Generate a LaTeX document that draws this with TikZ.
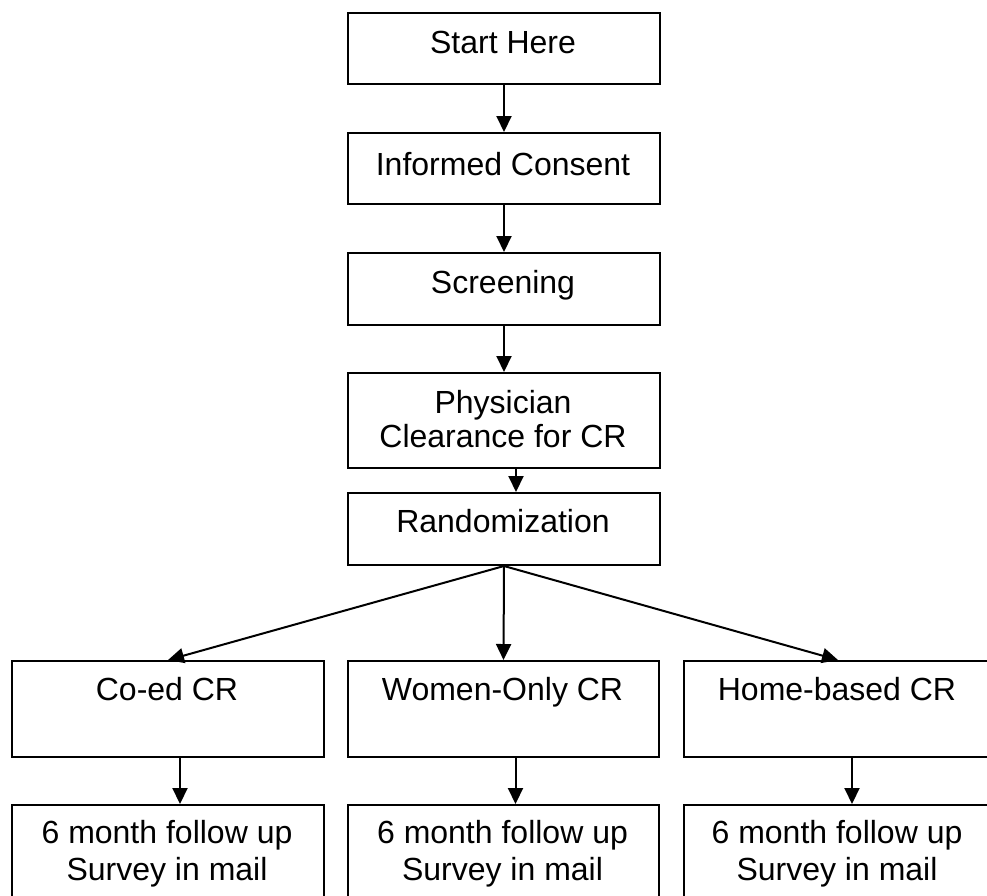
\documentclass[tikz,border=0pt]{standalone}
\usepackage{fontspec}
\setmainfont{Liberation Sans}
\usetikzlibrary{arrows.meta}
\begin{document}
\begin{tikzpicture}[x=1pt,y=-1pt,
  box/.style={draw, line width=2pt, inner sep=0pt, anchor=north west},
  txt/.style={anchor=base, inner sep=0pt, font=\fontsize{32}{36}\selectfont},
  arr/.style={line width=2pt, -{Triangle[length=16pt,width=15pt]}}]
\useasboundingbox (0,0) rectangle (987,895);
\clip (0,0) rectangle (987,895);
% main column
\node[box, minimum width=312pt, minimum height=71pt] (start) at (347,12) {};
\node[txt] (startT) at (503,53) {Start Here};
\node[box, minimum width=312pt, minimum height=71pt] (consent) at (347,132) {};
\node[txt] (consentT) at (503,175) {Informed Consent};
\node[box, minimum width=312pt, minimum height=72pt] (screen) at (347,252) {};
\node[txt] (screenT) at (503,293) {Screening};
\node[box, minimum width=312pt, minimum height=95pt] (phys) at (347,372) {};
\node[txt] (physT1) at (503,413) {Physician};
\node[txt] (physT2) at (503,447) {Clearance for CR};
\node[box, minimum width=312pt, minimum height=72pt] (rand) at (347,492) {};
\node[txt] (randT) at (503,532) {Randomization};
% arms
\node[box, minimum width=312pt, minimum height=96pt] (coed) at (11,660) {};
\node[txt] (coedT) at (167,700) {Co-ed CR};
\node[box, minimum width=311pt, minimum height=96pt] (women) at (347,660) {};
\node[txt] (womenT) at (502.5,700) {Women-Only CR};
\node[box, minimum width=308pt, minimum height=96pt] (home) at (683,660) {};
\node[txt] (homeT) at (837,700) {Home-based CR};
% follow up
\node[box, minimum width=312pt, minimum height=120pt] (fu1) at (11,804) {};
\node[txt] (fu1a) at (167,843) {6 month follow up};
\node[txt] (fu1b) at (167,880) {Survey in mail};
\node[box, minimum width=311pt, minimum height=120pt] (fu2) at (347,804) {};
\node[txt] (fu2a) at (502.5,843) {6 month follow up};
\node[txt] (fu2b) at (502.5,880) {Survey in mail};
\node[box, minimum width=308pt, minimum height=120pt] (fu3) at (683,804) {};
\node[txt] (fu3a) at (837,843) {6 month follow up};
\node[txt] (fu3b) at (837,880) {Survey in mail};
% connectors
\draw[arr] (start.south) -- (consent.north);
\draw[arr] (consent.south) -- (screen.north);
\draw[arr] (screen.south) -- (phys.north);
\draw[arr] ([xshift=12pt]phys.south) -- ([xshift=12pt]rand.north);
\draw[arr] (rand.south) -- (coed.north);
\draw[arr] (rand.south) -- (women.north);
\draw[arr] (rand.south) -- (home.north);
\draw[arr] ([xshift=12pt]coed.south) -- ([xshift=12pt]fu1.north);
\draw[arr] ([xshift=12pt]women.south) -- ([xshift=12pt]fu2.north);
\draw[arr] ([xshift=14pt]home.south) -- ([xshift=14pt]fu3.north);
\end{tikzpicture}
\end{document}
